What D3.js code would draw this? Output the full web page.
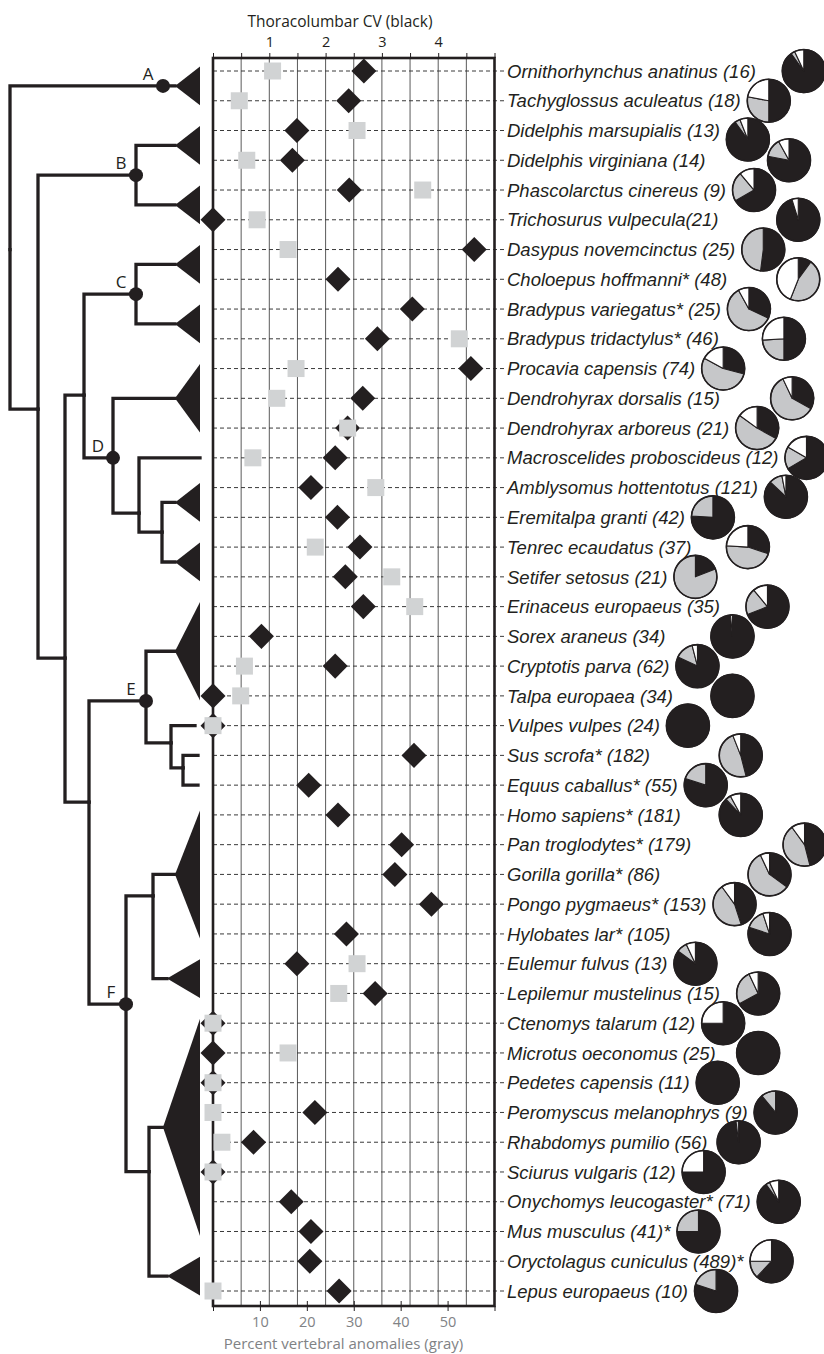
<!DOCTYPE html>
<html>
<head>
<meta charset="utf-8">
<script src="https://cdn.jsdelivr.net/npm/d3@7"></script>
<style>
body { margin: 0; background: #fff; }
svg { display: block; }
</style>
</head>
<body>
<div id="chart"></div>
<script>
const width = 824;
const height = 1354;
const ink = "#231f20";
const markerGray = "#d1d3d4";
const pieGray = "#c6c7c9";
const axisGray = "#808285";

const species = [
    "Ornithorhynchus anatinus (16)", "Tachyglossus aculeatus (18)", "Didelphis marsupialis (13)",
    "Didelphis virginiana (14)", "Phascolarctus cinereus (9)", "Trichosurus vulpecula(21)",
    "Dasypus novemcinctus (25)", "Choloepus hoffmanni* (48)", "Bradypus variegatus* (25)",
    "Bradypus tridactylus* (46)", "Procavia capensis (74)", "Dendrohyrax dorsalis (15)",
    "Dendrohyrax arboreus (21)", "Macroscelides proboscideus (12)", "Amblysomus hottentotus (121)",
    "Eremitalpa granti (42)", "Tenrec ecaudatus (37)", "Setifer setosus (21)",
    "Erinaceus europaeus (35)", "Sorex araneus (34)", "Cryptotis parva (62)",
    "Talpa europaea (34)", "Vulpes vulpes (24)", "Sus scrofa* (182)",
    "Equus caballus* (55)", "Homo sapiens* (181)", "Pan troglodytes* (179)",
    "Gorilla gorilla* (86)", "Pongo pygmaeus* (153)", "Hylobates lar* (105)",
    "Eulemur fulvus (13)", "Lepilemur mustelinus (15)", "Ctenomys talarum (12)",
    "Microtus oeconomus (25)", "Pedetes capensis (11)", "Peromyscus melanophrys (9)",
    "Rhabdomys pumilio (56)", "Sciurus vulgaris (12)", "Onychomys leucogaster* (71)",
    "Mus musculus (41)*", "Oryctolagus cuniculus (489)*", "Lepus europaeus (10)"
];

// thoracolumbar count CV (black diamonds)
const cvValues = [
    2.68, 2.41, 1.49, 1.41, 2.42, 0, 4.64, 2.22, 3.54, 2.92,
    4.58, 2.66, 2.39, 2.17, 1.74, 2.21, 2.61, 2.35, 2.67, 0.86,
    2.17, 0, 0, 3.57, 1.70, 2.22, 3.35, 3.23, 3.88, 2.37,
    1.49, 2.88, 0, 0, 0, 1.81, 0.72, 0, 1.39, 1.74,
    1.72, 2.24
];

// percent vertebral anomalies (gray squares), null = not shown
const anomalyPct = [
    12.7, 5.6, 30.7, 7.2, 44.7, 9.4, 16.0, null, null, 52.5,
    17.7, 13.6, 28.7, 8.5, 34.7, null, 21.8, 38.1, 43.0, null,
    6.7, 5.9, 0, null, null, null, null, null, null, null,
    30.7, 26.8, 0, 16.0, 0, 0, 1.9, 0, null, null,
    null, 0
];

// pie shares: black, gray, white
const pieBlack = [
    0.90, 0.50, 0.90, 0.78, 0.667, 0.952, 0.52, 0.10, 0.32, 0.50,
    0.29, 0.33, 0.33, 0.667, 0.87, 0.76, 0.30, 0.19, 0.69, 0.985,
    0.82, 1, 1, 0.46, 0.80, 0.88, 0.46, 0.35, 0.45, 0.80,
    0.85, 0.67, 0.75, 1, 1, 0.89, 0.98, 0.75, 0.90, 0.75,
    0.62, 0.80
];
const pieGrayShare = [
    0.03, 0.28, 0.04, 0.14, 0.222, 0, 0.48, 0.46, 0.60, 0.24,
    0.54, 0.60, 0.52, 0.167, 0.10, 0.24, 0.46, 0.81, 0.20, 0,
    0.14, 0, 0, 0.48, 0.20, 0.04, 0.44, 0.58, 0.45, 0.15,
    0.08, 0.26, 0, 0, 0, 0.11, 0.02, 0, 0.03, 0.25,
    0.13, 0.20
];
const pieWhite = [
    0.07, 0.22, 0.06, 0.08, 0.111, 0.048, 0, 0.44, 0.08, 0.26,
    0.17, 0.07, 0.15, 0.167, 0.03, 0, 0.24, 0, 0.11, 0.015,
    0.04, 0, 0, 0.06, 0, 0.08, 0.10, 0.07, 0.10, 0.05,
    0.07, 0.07, 0.25, 0, 0, 0, 0, 0.25, 0.07, 0,
    0.25, 0
];
// 0 = pie right after its label; higher = pushed out past lower-lane neighbours
const pieLane = [
    1, 0, 0, 1, 0, 1, 0, 1, 0, 1,
    0, 1, 0, 0, 0, 0, 1, 0, 2, 1,
    0, 1, 0, 1, 0, 1, 2, 1, 0, 1,
    0, 1, 0, 1, 0, 2, 1, 0, 1, 0,
    1, 0
];

// cladogram: depth in tree units, row = vertical position in species rows
const treeNodes = [
    { id: "root", parent: null, depth: 0, row: 6 },
    { id: "A", parent: "root", depth: 153, row: 0.5, label: "A" },
    { id: "triA", parent: "A", depth: 165, rows: [0, 1] },
    { id: "n1", parent: "root", depth: 28, row: 11.36 },
    { id: "B", parent: "n1", depth: 126, row: 3.5, label: "B" },
    { id: "triB1", parent: "B", depth: 165, rows: [2, 3] },
    { id: "triB2", parent: "B", depth: 165, rows: [4, 5] },
    { id: "n2", parent: "n1", depth: 55, row: 19.73 },
    { id: "n3", parent: "n2", depth: 74, row: 10.89 },
    { id: "C", parent: "n3", depth: 126, row: 7.5, label: "C" },
    { id: "triC1", parent: "C", depth: 165, rows: [6, 7] },
    { id: "triC2", parent: "C", depth: 165, rows: [8, 9] },
    { id: "D", parent: "n3", depth: 103, row: 13.0, label: "D" },
    { id: "triD1", parent: "D", depth: 165, rows: [10, 12] },
    { id: "n4", parent: "D", depth: 129, row: 14.86 },
    { id: "macro", parent: "n4", depth: 190, row: 13 },
    { id: "n5", parent: "n4", depth: 152, row: 15.5 },
    { id: "triD2", parent: "n5", depth: 165, rows: [14, 15] },
    { id: "triD3", parent: "n5", depth: 165, rows: [16, 17] },
    { id: "n6", parent: "n2", depth: 79, row: 24.57 },
    { id: "E", parent: "n6", depth: 136, row: 21.17, label: "E" },
    { id: "triE1", parent: "E", depth: 165, rows: [18, 21] },
    { id: "n7", parent: "E", depth: 161, row: 22.58 },
    { id: "vulpes", parent: "n7", depth: 185, row: 22 },
    { id: "n8", parent: "n7", depth: 173, row: 23.42 },
    { id: "sus", parent: "n8", depth: 188, row: 23 },
    { id: "equus", parent: "n8", depth: 188, row: 24 },
    { id: "F", parent: "n6", depth: 116, row: 31.36, label: "F" },
    { id: "n9", parent: "F", depth: 143, row: 27.72 },
    { id: "triF1", parent: "n9", depth: 165, rows: [25, 29] },
    { id: "triF2", parent: "n9", depth: 157, rows: [30, 31] },
    { id: "n10", parent: "F", depth: 139, row: 36.99 },
    { id: "triF3", parent: "n10", depth: 153, rows: [32, 39] },
    { id: "triF4", parent: "n10", depth: 157, rows: [40, 41] }
];

const plotLeft = 213, plotRight = 494.5, plotTop = 58, plotBottom = 1306;
const pieR = 21.5;

const xCV = d3.scaleLinear().domain([0, 5]).range([plotLeft, plotRight]);
const xPct = d3.scaleLinear().domain([0, 60]).range([plotLeft, plotRight]);
const rowY = d3.scaleLinear().domain([0, species.length - 1]).range([71, 1291]);
const treeX = d3.scaleLinear().domain([0, 190]).range([10, 200]);

const svg = d3.select("#chart").append("svg")
    .attr("width", width)
    .attr("height", height)
    .style("font-family", "'Open Sans', sans-serif");

// ---- tree ----
const root = d3.stratify().id(d => d.id).parentId(d => d.parent)(treeNodes);
root.each(n => {
    const d = n.data;
    n.tx = treeX(d.depth);
    n.ty = d.rows ? rowY((d.rows[0] + d.rows[1]) / 2) : rowY(d.row);
});

const tree = svg.append("g");
tree.selectAll("path.branch")
    .data(root.descendants().filter(n => n.parent))
    .join("path")
    .attr("class", "branch")
    .attr("d", n => `M${n.parent.tx},${n.parent.ty}V${n.ty}H${n.tx}`)
    .attr("fill", "none")
    .attr("stroke", ink)
    .attr("stroke-width", 3.3)
    .attr("stroke-linecap", "square");

tree.selectAll("path.clade")
    .data(root.descendants().filter(n => n.data.rows))
    .join("path")
    .attr("class", "clade")
    .attr("d", n => {
        const baseX = treeX(190);
        const y0 = rowY(n.data.rows[0]) - 4.5, y1 = rowY(n.data.rows[1]) + 4.5;
        return `M${n.tx},${n.ty}L${baseX},${y0}L${baseX},${y1}Z`;
    })
    .attr("fill", ink);

const named = root.descendants().filter(n => n.data.label);
tree.selectAll("circle.node")
    .data(named)
    .join("circle")
    .attr("class", "node")
    .attr("cx", n => n.tx)
    .attr("cy", n => n.ty)
    .attr("r", 7)
    .attr("fill", ink);
tree.selectAll("text.node-label")
    .data(named)
    .join("text")
    .attr("class", "node-label")
    .attr("x", n => n.tx - 15)
    .attr("y", n => n.ty - 6)
    .attr("text-anchor", "middle")
    .style("font-size", "17px")
    .attr("fill", ink)
    .text(n => n.data.label);

// ---- plot panel ----
const panel = svg.append("g");
panel.selectAll("line.grid")
    .data(d3.range(0.5, 5, 0.5))
    .join("line")
    .attr("class", "grid")
    .attr("x1", d => xCV(d)).attr("x2", d => xCV(d))
    .attr("y1", plotTop).attr("y2", plotBottom)
    .attr("stroke", "#5a5a5a")
    .attr("stroke-width", 1);

panel.selectAll("line.row")
    .data(species)
    .join("line")
    .attr("class", "row")
    .attr("x1", plotLeft).attr("x2", 504)
    .attr("y1", (d, i) => rowY(i)).attr("y2", (d, i) => rowY(i))
    .attr("stroke", "#3a3a3a")
    .attr("stroke-width", 1)
    .attr("stroke-dasharray", "4,3");

panel.append("rect")
    .attr("x", plotLeft).attr("y", plotTop)
    .attr("width", plotRight - plotLeft).attr("height", plotBottom - plotTop)
    .attr("fill", "none")
    .attr("stroke", ink)
    .attr("stroke-width", 2.6);

// top axis (CV)
const topAxis = svg.append("g")
    .attr("transform", `translate(0,${plotTop})`)
    .call(d3.axisTop(xCV)
        .tickValues(d3.range(0, 5.01, 0.5))
        .tickSize(5)
        .tickPadding(6)
        .tickFormat(d => (Number.isInteger(d) && d > 0 && d < 5) ? d : ""));
topAxis.select(".domain").remove();
topAxis.selectAll(".tick line").attr("stroke", ink);
topAxis.selectAll(".tick text")
    .attr("fill", ink)
    .style("font-family", "'Open Sans', sans-serif")
    .style("font-size", "14.5px");

svg.append("text")
    .attr("x", 340).attr("y", 26.5)
    .attr("text-anchor", "middle")
    .style("font-size", "15.5px")
    .attr("fill", ink)
    .text("Thoracolumbar CV (black)");

// bottom axis (percent)
const bottomAxis = svg.append("g")
    .attr("transform", `translate(0,${plotBottom})`)
    .call(d3.axisBottom(xPct)
        .tickValues(d3.range(0, 61, 10))
        .tickSize(5)
        .tickPadding(6)
        .tickFormat(d => (d > 0 && d < 60) ? d : ""));
bottomAxis.select(".domain").remove();
bottomAxis.selectAll(".tick line")
    .attr("stroke", ink)
    .attr("y1", d => (d > 0 && d < 60) ? -5 : 0);
bottomAxis.selectAll(".tick text")
    .attr("fill", axisGray)
    .style("font-family", "'Open Sans', sans-serif")
    .style("font-size", "14.5px");

svg.append("text")
    .attr("x", 343.5).attr("y", 1349)
    .attr("text-anchor", "middle")
    .style("font-size", "15px")
    .attr("fill", axisGray)
    .text("Percent vertebral anomalies (gray)");

// markers: diamonds (CV) under squares (percent)
const rows = species.map((name, i) => ({ i, name, cv: cvValues[i], pct: anomalyPct[i] }));
const diamond = d3.symbol().type(d3.symbolSquare).size(17.7 * 17.7);
const square = d3.symbol().type(d3.symbolSquare).size(17 * 17);

svg.append("g").selectAll("path")
    .data(rows)
    .join("path")
    .attr("d", diamond)
    .attr("transform", d => `translate(${xCV(d.cv)},${rowY(d.i)}) rotate(45)`)
    .attr("fill", ink);

svg.append("g").selectAll("path")
    .data(rows.filter(d => d.pct !== null))
    .join("path")
    .attr("d", square)
    .attr("transform", d => `translate(${xPct(d.pct)},${rowY(d.i)})`)
    .attr("fill", markerGray);

// species labels
const labels = svg.append("g").selectAll("text")
    .data(rows)
    .join("text")
    .attr("x", 507)
    .attr("y", d => rowY(d.i))
    .attr("dy", "0.36em")
    .style("font-family", "'Liberation Sans', Arial, sans-serif")
    .style("font-style", "italic")
    .style("font-size", "18.5px")
    .attr("fill", ink)
    .text(d => d.name);

// ---- pies ----
const labelEnd = [];
labels.each(function(d) { labelEnd[d.i] = 507 + this.getComputedTextLength(); });
const nearX = labelEnd.map(e => e + 6.5 + pieR);
const pieX = new Array(species.length);
d3.range(0, d3.max(pieLane) + 1).forEach(lane => {
    pieLane.forEach((l, i) => {
        if (l !== lane) return;
        let x = nearX[i];
        [i - 1, i + 1].forEach(j => {
            if (j >= 0 && j < species.length && pieLane[j] < lane) x = Math.max(x, pieX[j] + 35);
        });
        pieX[i] = x;
    });
});
const pieY = species.map((d, i) => rowY(i));
// nudge pies down where two neighbours would still overlap
for (let i = 1; i < pieY.length; i++) {
    const dx = pieX[i] - pieX[i - 1];
    const need = 2 * pieR + 1;
    const dy = pieY[i] - pieY[i - 1];
    if (Math.hypot(dx, dy) < need && Math.abs(dx) < need) {
        pieY[i] = pieY[i - 1] + Math.sqrt(need * need - dx * dx);
    }
}

const pie = d3.pie().sort(null).value(d => d.v);
const arc = d3.arc().innerRadius(0).outerRadius(pieR);
const pieFills = [ink, pieGray, "#ffffff"];

const pies = svg.append("g").selectAll("g")
    .data(rows)
    .join("g")
    .attr("transform", d => `translate(${pieX[d.i]},${pieY[d.i]})`);

pies.selectAll("path")
    .data(d => pie([
        { k: 0, v: pieBlack[d.i] },
        { k: 1, v: pieGrayShare[d.i] },
        { k: 2, v: pieWhite[d.i] }
    ]).filter(s => s.data.v > 0))
    .join("path")
    .attr("d", arc)
    .attr("fill", s => pieFills[s.data.k])
    .attr("stroke", ink)
    .attr("stroke-width", 1.1)
    .attr("stroke-linejoin", "round");

pies.append("circle")
    .attr("r", pieR)
    .attr("fill", "none")
    .attr("stroke", ink)
    .attr("stroke-width", 1.6);
</script>
</body>
</html>
